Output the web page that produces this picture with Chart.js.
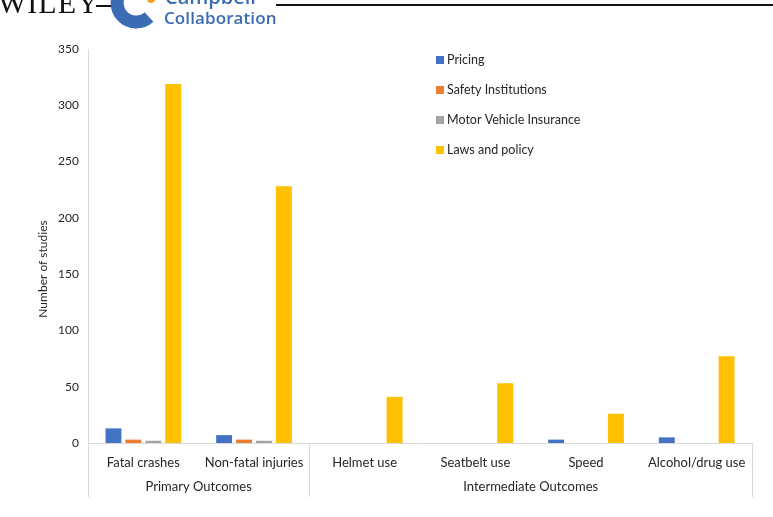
<!DOCTYPE html>
<html>
<head>
<meta charset="utf-8">
<script src="https://cdn.jsdelivr.net/npm/chart.js@4.4.0/dist/chart.umd.min.js"></script>
<style>
  html, body { margin: 0; padding: 0; background: #fff; overflow: hidden; }
  #wrap { position: relative; width: 773px; height: 517px; }
  #chart { position: absolute; left: 0; top: 0; }
  .hdr { position: absolute; }
  #wiley { left: -2px; top: -14px; font-family: "Liberation Serif", serif; font-size: 30px; letter-spacing: 1px; color: #111; }
  #dash { left: 96px; top: 5px; width: 16px; height: 2px; background: #111; }
  #rule { left: 276px; top: 4px; width: 497px; height: 2px; background: #111; }
  #camp { left: 165px; top: -17px; font-family: "Open Sans", sans-serif; font-weight: 600; font-size: 20px; color: #3a6bb3; }
  #collab { left: 164px; top: 6px; font-family: "Open Sans", sans-serif; font-weight: 600; font-size: 17px; color: #3a6bb3; letter-spacing: 0.1px; }
  #logo { left: 105px; top: -22px; }
</style>
</head>
<body>
<div id="wrap">
  <canvas id="chart" width="773" height="517"></canvas>
  <div class="hdr" id="wiley">WILEY</div>
  <div class="hdr" id="dash"></div>
  <svg class="hdr" id="logo" width="60" height="52" viewBox="0 0 60 52">
    <path d="M 45 12 A 19 19 0 1 0 44 39" fill="none" stroke="#3a6bb3" stroke-width="13"/>
    <circle cx="46" cy="21" r="4" fill="#f5a21b"/>
  </svg>
  <div class="hdr" id="camp">Campbell</div>
  <div class="hdr" id="collab">Collaboration</div>
  <div class="hdr" id="rule"></div>
</div>
<script>
const categories = ['Fatal crashes', 'Non-fatal injuries', 'Helmet use', 'Seatbelt use', 'Speed', 'Alcohol/drug use'];
const groups = [
  {label: 'Primary Outcomes', from: 0, to: 1},
  {label: 'Intermediate Outcomes', from: 2, to: 5}
];
const pricing = [13, 7, 0, 0, 3, 5];
const safetyInstitutions = [3, 3, 0, 0, 0, 0];
const motorInsurance = [2, 2, 0, 0, 0, 0];
const lawsPolicy = [319, 228, 41, 53, 26, 77];
const yTicks = [0, 50, 100, 150, 200, 250, 300, 350];

const FONT = 'Lato, "Open Sans", sans-serif';
const TEXT = '#262626';
const AXIS = '#d9d9d9';

// draws the grouped second row, separators, legend and axis title
const extras = {
  id: 'extras',
  afterDraw(c) {
    const ctx = c.ctx;
    const x = c.scales.x;
    const area = c.chartArea;
    const half = (x.getPixelForValue(1) - x.getPixelForValue(0)) / 2;
    ctx.save();
    ctx.strokeStyle = AXIS;
    ctx.lineWidth = 1;
    const edges = [x.getPixelForValue(0) - half];
    groups.forEach(g => edges.push(x.getPixelForValue(g.to) + half));
    edges.forEach(px => {
      ctx.beginPath();
      ctx.moveTo(Math.round(px) + 0.5, area.bottom);
      ctx.lineTo(Math.round(px) + 0.5, 497);
      ctx.stroke();
    });
    ctx.fillStyle = TEXT;
    ctx.font = '13px ' + FONT;
    ctx.textAlign = 'center';
    ctx.textBaseline = 'middle';
    groups.forEach(g => {
      const mid = (x.getPixelForValue(g.from) + x.getPixelForValue(g.to)) / 2;
      ctx.fillText(g.label, mid, 487);
    });

    // axis title
    ctx.save();
    ctx.translate(43, 269);
    ctx.rotate(-Math.PI / 2);
    ctx.font = '12px ' + FONT;
    ctx.fillText('Number of studies', 0, 0);
    ctx.restore();

    // legend inside plot
    ctx.textAlign = 'left';
    ctx.font = '12.5px ' + FONT;
    c.data.datasets.forEach((ds, i) => {
      const y = 60 + i * 30;
      ctx.fillStyle = ds.backgroundColor;
      ctx.fillRect(436, y - 4, 8, 8);
      ctx.fillStyle = TEXT;
      ctx.fillText(ds.label, 447, y);
    });
    ctx.restore();
  }
};

new Chart(document.getElementById('chart'), {
  type: 'bar',
  data: {
    labels: categories,
    datasets: [
      {label: 'Pricing', data: pricing, backgroundColor: '#4472c4'},
      {label: 'Safety Institutions', data: safetyInstitutions, backgroundColor: '#ed7d31'},
      {label: 'Motor Vehicle Insurance', data: motorInsurance, backgroundColor: '#a5a5a5'},
      {label: 'Laws and policy', data: lawsPolicy, backgroundColor: '#ffc000'}
    ]
  },
  options: {
    responsive: false,
    animation: false,
    devicePixelRatio: 1,
    datasets: {bar: {categoryPercentage: 0.72, barPercentage: 0.8}},
    layout: {padding: {left: 0, top: 49, right: 21, bottom: 0}},
    plugins: {legend: {display: false}, tooltip: {enabled: false}},
    scales: {
      x: {
        grid: {display: false, drawTicks: false},
        border: {color: AXIS},
        ticks: {color: TEXT, font: {family: FONT, size: 13}, padding: 12, maxRotation: 0, autoSkip: false},
        afterFit(s) { s.height = 74; }
      },
      y: {
        min: 0, max: 350,
        grid: {display: false, drawTicks: false},
        border: {color: AXIS},
        afterBuildTicks(s) { s.ticks = yTicks.map(v => ({value: v})); },
        ticks: {color: TEXT, font: {family: FONT, size: 12}, padding: 9},
        afterFit(s) { s.width = 88; }
      }
    }
  },
  plugins: [extras]
});
</script>
</body>
</html>
